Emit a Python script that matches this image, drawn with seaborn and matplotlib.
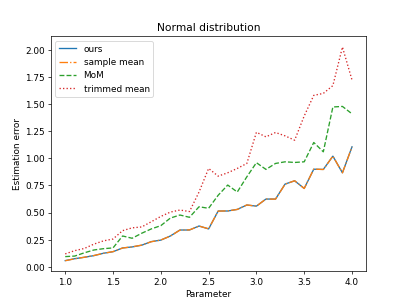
import matplotlib
matplotlib.use("Agg")
import matplotlib.pyplot as plt
import seaborn as sns
import pandas as pd

params = [1.0, 1.1, 1.2, 1.3, 1.4, 1.5, 1.6, 1.7, 1.8, 1.9, 2.0,
          2.1, 2.2, 2.3, 2.4, 2.5, 2.6, 2.7, 2.8, 2.9, 3.0,
          3.1, 3.2, 3.3, 3.4, 3.5, 3.6, 3.7, 3.8, 3.9, 4.0]

ours = [0.058, 0.076, 0.089, 0.104, 0.126, 0.140, 0.175, 0.184, 0.200, 0.233, 0.247,
        0.285, 0.340, 0.340, 0.377, 0.350, 0.515, 0.515, 0.530, 0.570, 0.560,
        0.625, 0.625, 0.763, 0.793, 0.723, 0.900, 0.898, 1.020, 0.867, 1.106]

sample_mean = [0.057, 0.075, 0.089, 0.105, 0.125, 0.141, 0.174, 0.185, 0.201, 0.232, 0.248,
               0.284, 0.339, 0.341, 0.376, 0.351, 0.514, 0.516, 0.529, 0.571, 0.559,
               0.626, 0.624, 0.762, 0.794, 0.722, 0.901, 0.897, 1.021, 0.866, 1.105]

mom = [0.095, 0.100, 0.130, 0.156, 0.168, 0.175, 0.285, 0.264, 0.310, 0.350, 0.380,
       0.450, 0.478, 0.457, 0.554, 0.540, 0.660, 0.754, 0.690, 0.830, 0.960,
       0.898, 0.953, 0.968, 0.962, 0.968, 1.146, 1.060, 1.473, 1.478, 1.410]

trimmed_mean = [0.120, 0.150, 0.170, 0.210, 0.240, 0.257, 0.334, 0.360, 0.368, 0.416, 0.465,
                0.505, 0.524, 0.510, 0.690, 0.907, 0.836, 0.867, 0.907, 0.953, 1.240,
                1.198, 1.238, 1.207, 1.167, 1.390, 1.580, 1.598, 1.670, 2.025, 1.722]

series = [("ours", ours, "-", "C0"),
          ("sample mean", sample_mean, "-.", "C1"),
          ("MoM", mom, "--", "C2"),
          ("trimmed mean", trimmed_mean, ":", "C3")]

fig, ax = plt.subplots(figsize=(6.4, 4.8), dpi=63.6)
for name, vals, ls, col in series:
    df = pd.DataFrame({"Parameter": params, "err": vals})
    sns.lineplot(data=df, x="Parameter", y="err", ax=ax, label=name,
                 linestyle=ls, color=col, linewidth=1.5)

ax.set_title("Normal distribution")
ax.set_xlabel("Parameter")
ax.set_ylabel("Estimation error")
ax.legend(loc="upper left")
fig.savefig("out.png", dpi=63.6)
